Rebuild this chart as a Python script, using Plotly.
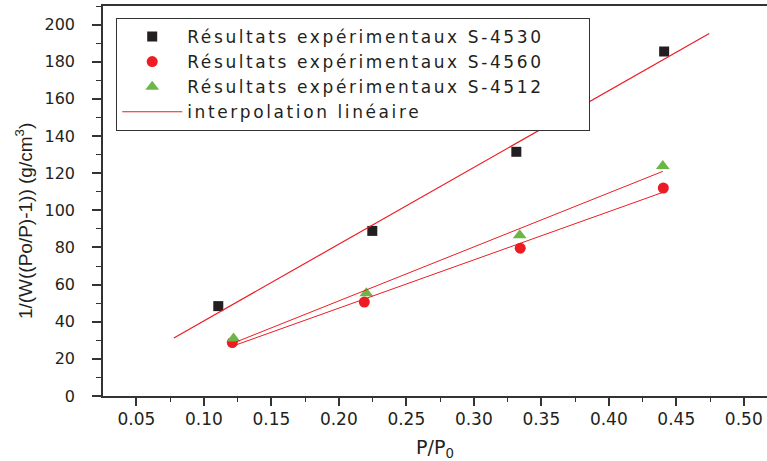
import numpy as np
import plotly.graph_objects as go

# P/P0 values and 1/(W((Po/P)-1)) values
x_4530 = [0.1107, 0.2248, 0.3315, 0.4410]
y_4530 = [48.4, 88.9, 131.5, 185.5]

x_4560 = [0.1211, 0.2189, 0.3344, 0.4404]
y_4560 = [28.8, 50.6, 79.6, 112.0]

x_4512 = [0.1220, 0.2204, 0.3340, 0.4400]
y_4512 = [31.0, 55.3, 86.6, 123.9]

# extent of each linear-interpolation line along P/P0
fit_span_4530 = [0.0778, 0.4744]
fit_span_4560 = [0.1211, 0.4404]
fit_span_4512 = [0.1220, 0.4400]

names = ["Résultats expérimentaux S-4530",
         "Résultats expérimentaux S-4560",
         "Résultats expérimentaux S-4512",
         "interpolation linéaire"]

FONT = "DejaVu Sans, Liberation Sans, Arial, sans-serif"
FONT_AR = "Liberation Sans, Arial, sans-serif"
INK = "#231f20"
RED = "#ed1c24"
GREEN = "#6cb648"


def wide(t):
    return '<span style="letter-spacing:2.6px">' + t + '&nbsp;' * 5 + '</span>'


fig = go.Figure()
fig.add_trace(go.Scatter(x=x_4530, y=y_4530, mode="markers", name=wide(names[0]),
                         marker=dict(symbol="square", size=10, color=INK)))
fig.add_trace(go.Scatter(x=x_4560, y=y_4560, mode="markers", name=wide(names[1]),
                         marker=dict(symbol="circle", size=11, color=RED)))
fig.add_trace(go.Scatter(x=x_4512, y=y_4512, mode="markers", name=wide(names[2]),
                         marker=dict(symbol="triangle-up", size=12, color=GREEN)))

for i, (xs, ys, span) in enumerate([(x_4530, y_4530, fit_span_4530),
                                    (x_4560, y_4560, fit_span_4560),
                                    (x_4512, y_4512, fit_span_4512)]):
    k, b = np.polyfit(xs, ys, 1)
    xf = np.array(span)
    fig.add_trace(go.Scatter(x=xf, y=k * xf + b, mode="lines", name=wide(names[3]),
                             legendgroup="fit", showlegend=(i == 0),
                             line=dict(color=RED, width=1.2 if i == 0 else 1)))

fig.update_layout(
    width=767, height=461,
    margin=dict(l=103, r=0, t=6, b=65),
    paper_bgcolor="white", plot_bgcolor="white",
    font=dict(family=FONT, color=INK, size=17),
    legend=dict(x=0.0196, y=0.97, xanchor="left", yanchor="top",
                bordercolor="#333333", borderwidth=1.2, bgcolor="white",
                font=dict(family=FONT, size=17, color=INK),
                itemwidth=60, tracegroupgap=0),
    xaxis=dict(range=[0.0253, 0.5172], tick0=0.05, dtick=0.05, tickformat=".2f",
               showgrid=False, zeroline=False, showline=True, linecolor="#333333",
               linewidth=1.5, mirror=True, ticks="outside", ticklen=8, tickwidth=1.5,
               tickcolor="#333333", tickfont=dict(size=17, family=FONT, color=INK),
               ticklabelstandoff=-1,
               minor=dict(dtick=0.025, tick0=0.025, ticks="outside", ticklen=4,
                          tickwidth=1.2, tickcolor="#333333"),
               title=dict(text="P/P<sub>0</sub>", font=dict(size=19, family=FONT, color=INK),
                          standoff=13)),
    yaxis=dict(range=[0, 210], tick0=0, dtick=20,
               showgrid=False, zeroline=False, showline=True, linecolor="#333333",
               linewidth=1.5, ticks="outside", ticklen=9, tickwidth=1.5,
               tickcolor="#333333", tickfont=dict(size=16, family=FONT, color=INK),
               ticklabelstandoff=14,
               minor=dict(dtick=10, ticks="outside", ticklen=5, tickwidth=1.2,
                          tickcolor="#333333")),
)

fig.add_annotation(text="1/(W((Po/P)-1)) (g/cm<sup>3</sup>)", textangle=-90,
                   xref="paper", x=-0.118, xanchor="center",
                   yref="y", y=94, yanchor="middle", showarrow=False,
                   font=dict(size=19, family=FONT_AR, color=INK))

fig.write_html("out.html")
